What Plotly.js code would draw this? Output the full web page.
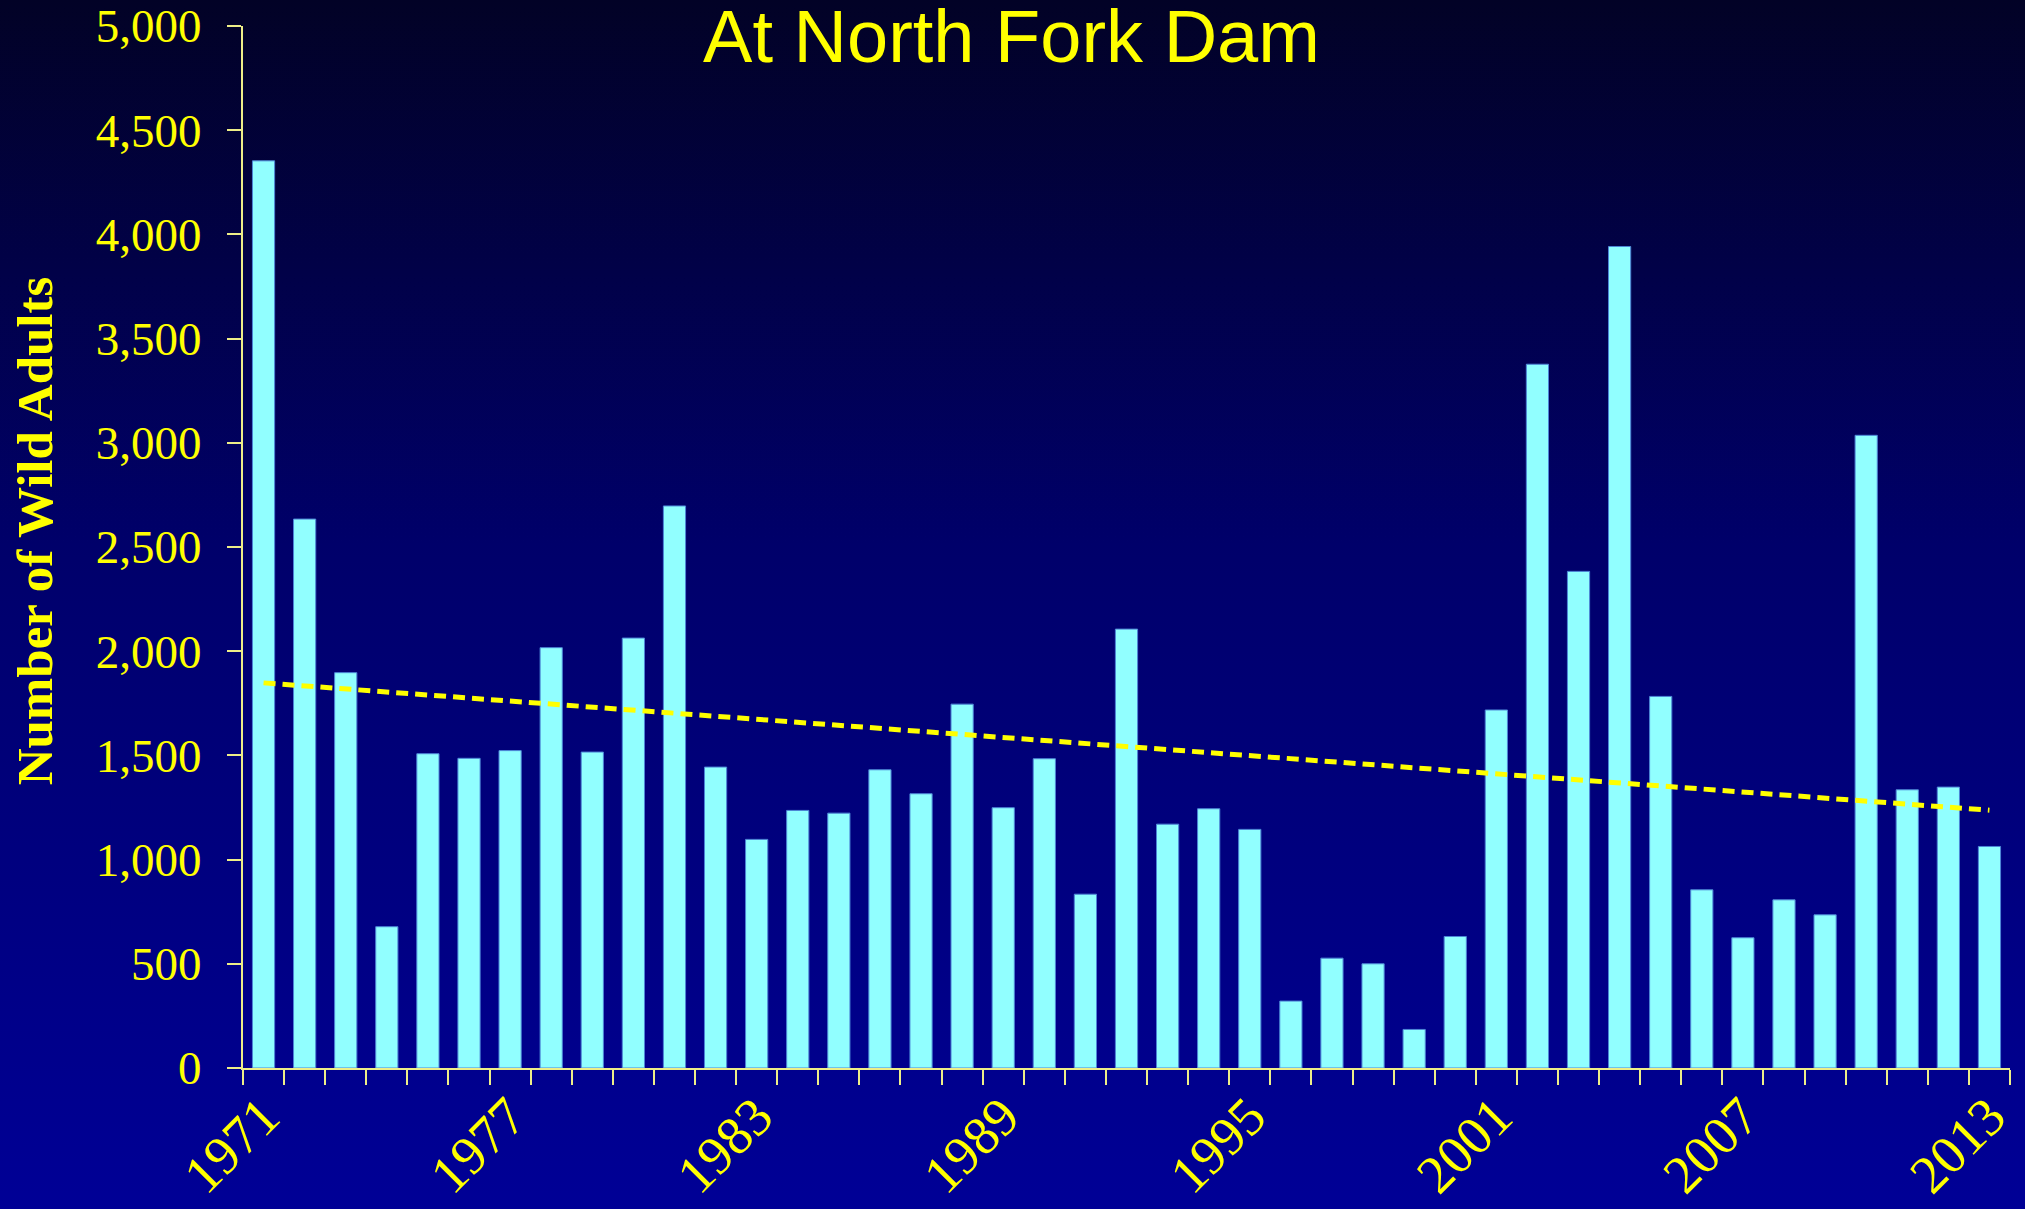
<!DOCTYPE html>
<html>
<head>
<meta charset="utf-8">
<script src="https://cdn.plot.ly/plotly-3.0.1.min.js"></script>
<style>
  html, body { margin: 0; padding: 0; }
  #chart {
    width: 2025px; height: 1209px;
    background: linear-gradient(to bottom, #020226 0%, #00006a 45%, #000096 100%);
  }
</style>
</head>
<body>
<div id="chart"></div>
<script>
// Data
const years = [1971,1972,1973,1974,1975,1976,1977,1978,1979,1980,1981,1982,1983,1984,1985,1986,1987,1988,1989,1990,1991,1992,1993,1994,1995,1996,1997,1998,1999,2000,2001,2002,2003,2004,2005,2006,2007,2008,2009,2010,2011,2012,2013];
const wildAdults = [4353,2634,1897,678,1508,1486,1523,2017,1516,2063,2697,1444,1097,1236,1223,1431,1316,1746,1249,1484,834,2106,1170,1244,1145,321,527,500,185,631,1718,3377,2383,3942,1783,855,625,807,735,3036,1335,1348,1063];
const trendYears = [1971, 2013];
const trendValues = [1848, 1237];
const titleText = "At North Fork Dam";
const yTitleText = "Number of Wild Adults";

const yellow = "#FFFF00";
const axisColor = "#EEEE88";

const bars = {
  type: "bar",
  x: years,
  y: wildAdults,
  marker: { color: "#91FFFF", line: { color: "#4d86d6", width: 1 } },
  hoverinfo: "skip",
  showlegend: false
};
const trend = {
  type: "scatter",
  mode: "lines",
  x: trendYears,
  y: trendValues,
  line: { color: yellow, width: 5, dash: "12px,7px" },
  hoverinfo: "skip",
  showlegend: false
};

const layout = {
  width: 2025,
  height: 1209,
  paper_bgcolor: "rgba(0,0,0,0)",
  plot_bgcolor: "rgba(0,0,0,0)",
  margin: { l: 243, r: 15, t: 26, b: 141, pad: 0 },
  bargap: 0.46,
  title: {
    text: titleText,
    font: { family: "Liberation Sans, Arial, sans-serif", size: 74, color: yellow },
    x: 0.4995, xanchor: "center",
    y: 0.970, yanchor: "middle", yref: "container"
  },
  xaxis: {
    type: "linear",
    range: [1970.5, 2013.5],
    tick0: 1971, dtick: 6,
    ticks: "outside", ticklen: 15, tickwidth: 2, tickcolor: "rgba(0,0,0,0)",
    tickangle: -45,
    tickformat: "d",
    ticklabelstandoff: -22,
    tickfont: { family: "Liberation Serif, Times New Roman, serif", size: 54, color: yellow },
    minor: { ticks: "outside", dtick: 1, tick0: 1970.5, ticklen: 15, tickwidth: 2, tickcolor: axisColor, showgrid: false },
    showline: true, linecolor: axisColor, linewidth: 2,
    showgrid: false, zeroline: false, fixedrange: true
  },
  yaxis: {
    range: [0, 5000],
    tick0: 0, dtick: 500,
    tickformat: ",d",
    ticks: "outside", ticklen: 14, tickwidth: 2, tickcolor: axisColor,
    ticklabelstandoff: 16,
    tickfont: { family: "Liberation Serif, Times New Roman, serif", size: 47, color: yellow },
    showline: true, linecolor: axisColor, linewidth: 2,
    showgrid: false, zeroline: false, fixedrange: true
  },
  annotations: [{
    text: "<b>" + yTitleText + "</b>",
    textangle: -90,
    xref: "paper", yref: "paper",
    x: 0, y: 0.515,
    xanchor: "center", yanchor: "middle",
    xshift: -208,
    showarrow: false,
    font: { family: "Liberation Serif, Times New Roman, serif", size: 51, color: yellow }
  }]
};

Plotly.newPlot("chart", [bars, trend], layout, { displayModeBar: false, staticPlot: true });
</script>
</body>
</html>
